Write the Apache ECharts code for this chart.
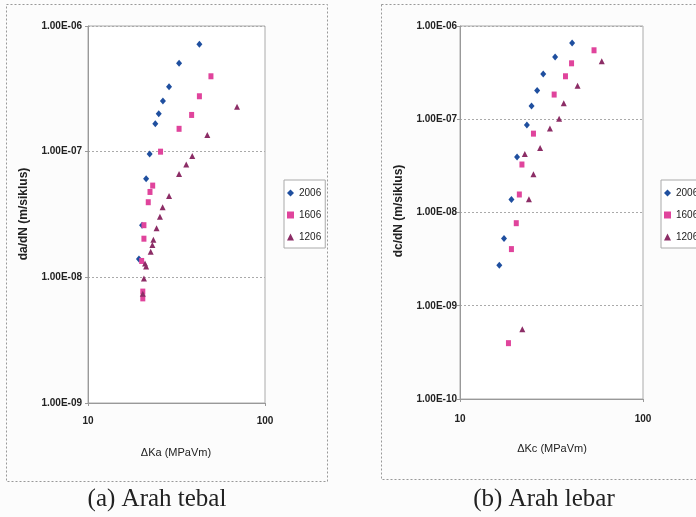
<!DOCTYPE html>
<html>
<head>
<meta charset="utf-8">
<script src="https://cdn.jsdelivr.net/npm/echarts@6/dist/echarts.min.js"></script>
<style>
html,body{margin:0;padding:0;background:#fcfcfc;}
#c{width:696px;height:517px;}
</style>
</head>
<body>
<div id="c"></div>
<script>
// ---- Data (a) Arah tebal : ΔKa vs da/dN ----
const seriesNames = ['2006', '1606', '1206'];
const Ka_2006 = [42.6, 32.7, 28.7, 26.5, 25.1, 24.0, 22.3, 21.3, 20.2, 19.4];
const da_2006 = [7.15e-7, 5.05e-7, 3.29e-7, 2.53e-7, 2.0e-7, 1.67e-7, 9.6e-8, 6.1e-8, 2.6e-8, 1.4e-8];
const Ka_1606 = [49.5, 42.6, 38.5, 32.7, 25.7, 23.2, 22.4, 21.9, 20.7, 20.7, 20.1, 20.4, 20.4];
const da_1606 = [3.98e-7, 2.76e-7, 1.96e-7, 1.52e-7, 1.0e-7, 5.37e-8, 4.78e-8, 3.96e-8, 2.6e-8, 2.03e-8, 1.35e-8, 7.7e-9, 6.8e-9];
const Ka_1206 = [69.5, 47.2, 38.8, 35.9, 32.7, 28.7, 26.4, 25.5, 24.4, 23.4, 23.1, 22.6, 21.0, 21.3, 20.7, 20.4];
const da_1206 = [2.28e-7, 1.36e-7, 9.25e-8, 7.9e-8, 6.65e-8, 4.44e-8, 3.61e-8, 3.04e-8, 2.46e-8, 1.99e-8, 1.81e-8, 1.6e-8, 1.29e-8, 1.22e-8, 9.8e-9, 7.4e-9];

// ---- Data (b) Arah lebar : ΔKc vs dc/dN ----
const Kc_2006 = [41.0, 33.1, 28.5, 26.4, 24.6, 23.2, 20.5, 19.1, 17.4, 16.4];
const dc_2006 = [6.57e-7, 4.65e-7, 3.06e-7, 2.03e-7, 1.39e-7, 8.69e-8, 3.94e-8, 1.38e-8, 5.26e-9, 2.72e-9];
const Kc_1606 = [54.0, 40.7, 37.7, 32.7, 25.2, 21.8, 21.1, 20.3, 19.1, 18.4];
const dc_1606 = [5.49e-7, 3.98e-7, 2.89e-7, 1.84e-7, 7.01e-8, 3.27e-8, 1.56e-8, 7.68e-9, 4.05e-9, 3.97e-10];
const Kc_1206 = [59.5, 43.9, 36.9, 34.8, 31.0, 27.4, 22.6, 25.2, 23.8, 21.9];
const dc_1206 = [4.19e-7, 2.28e-7, 1.48e-7, 1.01e-7, 7.94e-8, 4.92e-8, 4.25e-8, 2.57e-8, 1.39e-8, 5.61e-10];

// ---- Axis texts ----
const xTitleA = 'ΔKa (MPaVm)';
const xTitleB = 'ΔKc (MPaVm)';
const yTitleA = 'da/dN (m/siklus)';
const yTitleB = 'dc/dN (m/siklus)';
const captionA = '(a) Arah tebal';
const captionB = '(b) Arah lebar';

const zip = (xs, ys) => xs.map((x, i) => [x, ys[i]]);
const sym = {
  '2006': {symbol: 'diamond', size: [6, 7], color: '#1f4f9f'},
  '1606': {symbol: 'rect', size: [5, 6], color: '#e0449c'},
  '1206': {symbol: 'triangle', size: [6, 6], color: '#8c2d66'}
};

function sciFmt(v) {
  const e = Math.floor(Math.log10(v) + 1e-9);
  const m = v / Math.pow(10, e);
  return m.toFixed(2) + 'E' + (e < 0 ? '-' : '+') + String(Math.abs(e)).padStart(2, '0');
}

const labelFont = {fontFamily: 'Liberation Sans', fontSize: 10, fontWeight: 'bold', color: '#222'};

function mkX(idx, margin) {
  return {
    type: 'log', logBase: 10, min: 10, max: 100, gridIndex: idx,
    axisLine: {lineStyle: {color: '#999', width: 1}},
    axisTick: {show: true, length: 3, lineStyle: {color: '#999'}},
    axisLabel: Object.assign({margin: margin, formatter: v => String(Math.round(v))}, labelFont),
    splitLine: {show: false}, minorTick: {show: false}
  };
}
function mkY(idx, min, margin) {
  return {
    type: 'log', logBase: 10, min: min, max: 1e-6, gridIndex: idx,
    axisLine: {show: true, lineStyle: {color: '#999', width: 1}},
    axisTick: {show: true, length: 3, lineStyle: {color: '#999'}},
    axisLabel: Object.assign({margin: margin, formatter: sciFmt}, labelFont),
    splitLine: {show: true, lineStyle: {color: '#aaa', type: [2, 2], width: 1}}
  };
}

const series = [];
const dataA = {'2006': zip(Ka_2006, da_2006), '1606': zip(Ka_1606, da_1606), '1206': zip(Ka_1206, da_1206)};
const dataB = {'2006': zip(Kc_2006, dc_2006), '1606': zip(Kc_1606, dc_1606), '1206': zip(Kc_1206, dc_1206)};
[dataA, dataB].forEach((d, gi) => {
  seriesNames.forEach(n => {
    series.push({
      name: n, type: 'scatter', xAxisIndex: gi, yAxisIndex: gi,
      symbol: sym[n].symbol, symbolSize: sym[n].size,
      itemStyle: {color: sym[n].color, opacity: 1},
      emphasis: {disabled: true},
      data: d[n]
    });
  });
});

function mkLegend(left) {
  return {
    data: seriesNames, orient: 'vertical', left: left, top: 180,
    padding: [7, 4, 5, 3], itemGap: 10, itemWidth: 7, itemHeight: 7, itemTextGap: 3,
    backgroundColor: '#fff', borderColor: '#aaa', borderWidth: 1,
    selectedMode: false,
    textStyle: {fontFamily: 'Liberation Sans', fontSize: 10, lineHeight: 12, color: '#222'}
  };
}

const titleFont = {fontFamily: 'Liberation Sans', fontSize: 11, fill: '#222'};

const option = {
  backgroundColor: '#fcfcfc',
  animation: false,
  grid: [
    {left: 88, top: 26, width: 177, height: 377, show: true, borderColor: '#aaa', borderWidth: 1, backgroundColor: '#fff'},
    {left: 460, top: 26, width: 183, height: 373, show: true, borderColor: '#aaa', borderWidth: 1, backgroundColor: '#fff'}
  ],
  xAxis: [mkX(0, 13), mkX(1, 15)],
  yAxis: [mkY(0, 1e-9, 6), mkY(1, 1e-10, 3)],
  legend: [mkLegend(284), mkLegend(661)],
  series: series,
  graphic: [
    {type: 'rect', z: -10, shape: {x: 6.5, y: 4.5, width: 321, height: 477},
     style: {fill: 'none', stroke: '#999', lineWidth: 1, lineDash: [2, 2]}},
    {type: 'rect', z: -10, shape: {x: 381.5, y: 4.5, width: 400, height: 475},
     style: {fill: 'none', stroke: '#999', lineWidth: 1, lineDash: [2, 2]}},
    {type: 'text', x: 176, y: 453, style: Object.assign({text: xTitleA, textAlign: 'center', textVerticalAlign: 'middle'}, titleFont)},
    {type: 'text', x: 552, y: 449, style: Object.assign({text: xTitleB, textAlign: 'center', textVerticalAlign: 'middle'}, titleFont)},
    {type: 'text', x: 24, y: 214, rotation: Math.PI / 2,
     style: {text: yTitleA, textAlign: 'center', textVerticalAlign: 'middle', fontFamily: 'Liberation Sans', fontSize: 12, fontWeight: 'bold', fill: '#222'}},
    {type: 'text', x: 399, y: 211, rotation: Math.PI / 2,
     style: {text: yTitleB, textAlign: 'center', textVerticalAlign: 'middle', fontFamily: 'Liberation Sans', fontSize: 12, fontWeight: 'bold', fill: '#222'}},
    {type: 'text', x: 157, y: 499,
     style: {text: captionA, textAlign: 'center', textVerticalAlign: 'middle', fontFamily: 'Liberation Serif', fontSize: 25, fill: '#222'}},
    {type: 'text', x: 544, y: 499,
     style: {text: captionB, textAlign: 'center', textVerticalAlign: 'middle', fontFamily: 'Liberation Serif', fontSize: 25, fill: '#222'}}
  ]
};

const chart = echarts.init(document.getElementById('c'), null, {renderer: 'canvas'});
chart.setOption(option);
</script>
</body>
</html>
